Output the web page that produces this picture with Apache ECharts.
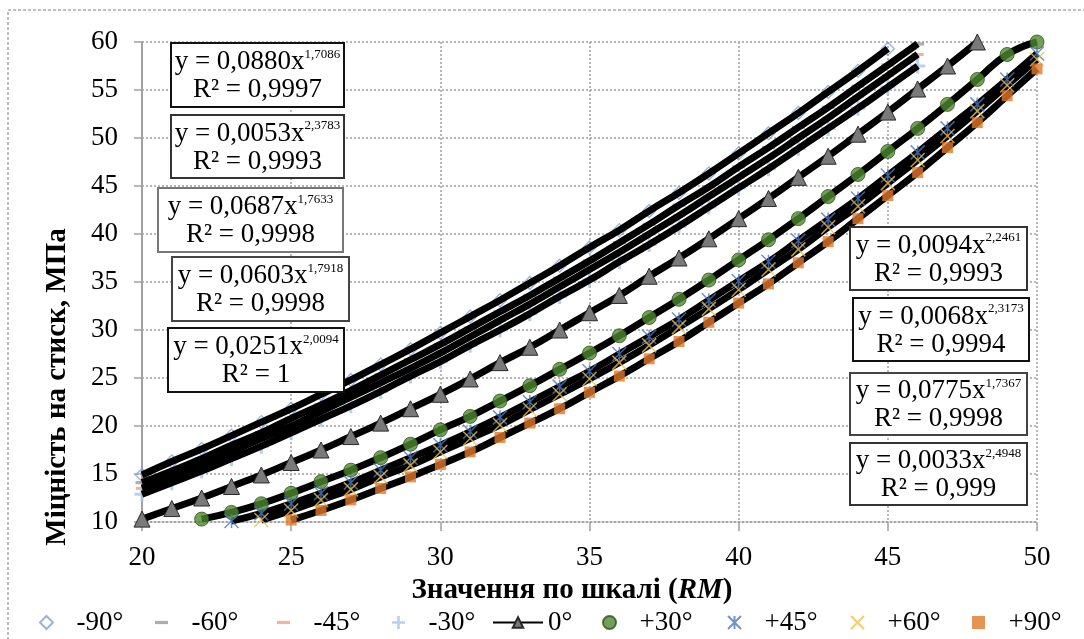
<!DOCTYPE html>
<html><head><meta charset="utf-8">
<script src="https://cdn.jsdelivr.net/npm/echarts@6/dist/echarts.min.js"></script>
<style>html,body{margin:0;padding:0;background:#fff}#c{width:1084px;height:639px}</style>
</head><body><div id="c"></div>
<script>
// ---- data ----
const rm = [20,21,22,23,24,25,26,27,28,29,30,31,32,33,34,35,36,37,38,39,40,41,42,43,44,45,46,47,48,49,50];
const xTicks = [20,25,30,35,40,45,50];
const yTicks = [10,15,20,25,30,35,40,45,50,55,60];
const seriesNames = ['-90°','-60°','-45°','-30°','0°','+30°','+45°','+60°','+90°'];
const vM90 = [14.9,16.3,17.6,19.0,20.4,21.8,23.3,24.8,26.4,28.0,29.7,31.4,33.1,34.9,36.7,38.6,40.4,42.4,44.3,46.3,48.4,50.5,52.6,54.8,57.0,59.3,null,null,null,null,null];
const vM60 = [14.1,15.3,16.6,18.0,19.3,20.8,22.2,23.7,25.3,26.9,28.5,30.2,31.9,33.6,35.4,37.2,39.1,41.0,43.0,44.9,47.0,49.0,51.1,53.2,55.4,57.6,59.8,null,null,null,null];
const vM45 = [13.5,14.7,16.0,17.3,18.7,20.0,21.5,23.0,24.5,26.0,27.6,29.3,31.0,32.7,34.5,36.3,38.1,40.0,41.9,43.9,45.9,47.9,50.0,52.1,54.3,56.5,58.7,null,null,null,null];
const vM30 = [12.9,14.1,15.3,16.6,17.9,19.3,20.7,22.1,23.6,25.2,26.7,28.4,30.0,31.7,33.5,35.2,37.1,38.9,40.8,42.8,44.8,46.8,48.9,51.0,53.1,55.3,57.5,null,null,null,null];
const v0   = [10.3,11.4,12.5,13.7,14.9,16.2,17.5,18.9,20.3,21.8,23.3,24.9,26.6,28.2,30.0,31.8,33.6,35.6,37.5,39.5,41.6,43.7,45.9,48.1,50.4,52.7,55.1,57.5,60.0,null,null];
const vP30 = [null,null,10.3,11.0,11.9,13.0,14.2,15.4,16.7,18.1,19.6,21.0,22.6,24.2,25.9,27.6,29.4,31.3,33.2,35.2,37.3,39.4,41.6,43.9,46.2,48.6,51.0,53.5,56.1,58.7,60.0];
const vP45 = [null,null,null,10.1,10.9,11.9,13.0,14.1,15.4,16.7,18.0,19.4,20.9,22.5,24.1,25.7,27.5,29.3,31.1,33.1,35.1,37.1,39.3,41.5,43.7,46.1,48.5,51.0,53.5,56.1,58.8];
const vP60 = [null,null,null,null,10.2,11.2,12.3,13.4,14.7,15.9,17.3,18.7,20.1,21.7,23.3,24.9,26.6,28.4,30.3,32.2,34.2,36.3,38.4,40.7,42.9,45.3,47.7,50.2,52.8,55.5,58.2];
const vP90 = [null,null,null,null,null,10.2,11.2,12.3,13.5,14.7,16.0,17.3,18.8,20.3,21.8,23.5,25.2,27.0,28.8,30.8,32.8,34.8,37.0,39.2,41.6,44.0,46.4,49.0,51.6,54.4,57.2];
const eqCoef = ['0,0880','0,0053','0,0687','0,0603','0,0251','0,0094','0,0068','0,0775','0,0033'];
const eqExp  = ['1,7086','2,3783','1,7633','1,7918','2,0094','2,2461','2,3173','1,7367','2,4948'];
const eqR2   = ['0,9997','0,9993','0,9998','0,9998','1','0,9993','0,9994','0,9998','0,999'];
const xTitleMain = 'Значення по шкалі (';
const xTitleItal = 'RM';
const yTitle = 'Міцність на стиск, МПа';

// ---- layout / styles ----
const FONT = '"Liberation Serif","Times New Roman",serif';
const boxLayout = [[171,43,173,64],[171,115,173,63],[158,188,185,64],[172,257,177,64],[168,328,176,64],
                   [850,227,177,63],[853,298,176,63],[850,373,177,62],[850,443,177,62]];
const boxBorder = ['#111','#333','#777','#444','#111','#333','#111','#444','#333'];
const legendIconCenters = [47,163,285,400,517,610,735,858,980];

function pairs(vals){ return rm.map((x,i)=>[x, vals[i]]).filter(p=>p[1]!=null); }

const DASH = 'path://M0,0L0,0M0,4.5L12,4.5L12,7.5L0,7.5ZM12,12L12,12';
const markerDefs = [
  {symbol:'path://M5,0L10,5L5,10L0,5Z', size:13, itemStyle:{color:'rgba(255,255,255,0)',borderColor:'#7ba3d6',borderWidth:1.3}},
  {symbol:DASH, size:13, itemStyle:{color:'#9a9a9a'}},
  {symbol:DASH, size:12, itemStyle:{color:'#f2a07b'}},
  {symbol:'path://M4,0L6,0L6,4L10,4L10,6L6,6L6,10L4,10L4,6L0,6L0,4L4,4Z', size:15, itemStyle:{color:'#a8c3ea'}},
  null,
  {symbol:'circle', size:14, itemStyle:{color:'#4e8a2e',borderColor:'#2f4f1c',borderWidth:1}},
  {symbol:'path://M5,0L5,10M0,0L10,10M10,0L0,10', size:14, itemStyle:{color:'rgba(0,0,0,0)',borderColor:'#4a78c0',borderWidth:1.5}},
  {symbol:'path://M0,0L10,10M10,0L0,10', size:14, itemStyle:{color:'rgba(0,0,0,0)',borderColor:'#f0c24a',borderWidth:1.5}},
  {symbol:'path://M0,0L10,0L10,10L0,10Z', size:11, itemStyle:{color:'#e0782a'}}
];
const allVals = [vM90,vM60,vM45,vM30,v0,vP30,vP45,vP60,vP90];
const LW = 7;

const series = [];
allVals.forEach((vals,i)=>{
  if (i===4) return;
  series.push({type:'line', name:'trend'+i, data:pairs(vals), smooth:true, showSymbol:false, symbol:'none',
    lineStyle:{color:'#000',width:LW}, emphasis:{disabled:true}, z:3, silent:true});
});
allVals.forEach((vals,i)=>{
  if (i===4) {
    series.push({type:'line', name:seriesNames[i], data:pairs(vals), smooth:true, symbol:'triangle', symbolSize:16,
      showAllSymbol:true, lineStyle:{color:'#000',width:LW}, itemStyle:{color:'#7a7a7a',borderColor:'#2a2a2a',borderWidth:1}, z:5});
  } else {
    const m = markerDefs[i];
    series.push({type:'scatter', name:seriesNames[i], data:pairs(vals), symbol:m.symbol, symbolSize:m.size,
      symbolKeepAspect:false, itemStyle:m.itemStyle, z:(i>=5?4:2)});
  }
});

const graphic = [
  {type:'rect', shape:{x:8,y:10,width:1100,height:660}, style:{fill:'none',stroke:'#aaa',lineWidth:1.5,lineDash:[3,2]}, z:-1, silent:true},
  {type:'text', x:58, y:387, rotation:Math.PI/2, z:10,
   style:{text:yTitle, fontSize:29, fontWeight:'bold', fontFamily:FONT, fill:'#000', textAlign:'center', textVerticalAlign:'middle', align:'center', verticalAlign:'middle'}},
  {type:'text', x:572, y:591, z:10,
   style:{text:'{b|'+xTitleMain+'}{i|'+xTitleItal+'}{b|)}', fill:'#000', textAlign:'center', textVerticalAlign:'middle', align:'center', verticalAlign:'middle',
     rich:{b:{fontSize:29,fontWeight:'bold',fontFamily:FONT,fill:'#000'}, i:{fontSize:29,fontWeight:'bold',fontStyle:'italic',fontFamily:FONT,fill:'#000'}}}}
];
boxLayout.forEach((b,i)=>{
  graphic.push({type:'group', x:b[0], y:b[1], z:50, children:[
    {type:'rect', shape:{x:0,y:0,width:b[2],height:b[3]}, style:{fill:'#fff',stroke:boxBorder[i],lineWidth:2}, z:50},
    {type:'text', x:b[2]/2, y:b[3]/2+1, z:51,
     style:{text:'{m|y = '+eqCoef[i]+'x}{s|'+eqExp[i]+'}\n{m|R² = '+eqR2[i]+'}',
       textAlign:'center', textVerticalAlign:'middle', align:'center', verticalAlign:'middle', fill:'#000',
       rich:{m:{fontSize:27,lineHeight:28,fontFamily:FONT,fill:'#000'},
             s:{fontSize:13,lineHeight:13,fontFamily:FONT,fill:'#000',verticalAlign:'top'}}}}
  ]});
});

const legends = seriesNames.map((n,i)=>({
  data:[n], left:legendIconCenters[i]-(i===4?25:8), top:609, padding:0, itemWidth:50, itemHeight:13, itemGap:0,
  symbolKeepAspect:true, textStyle:{fontSize:27, fontFamily:FONT, color:'#000'}
}));

const chart = echarts.init(document.getElementById('c'), null, {renderer:'canvas'});
chart.setOption({
  animation:false,
  backgroundColor:'#fff',
  grid:{left:142, right:47, top:42, bottom:117, containLabel:false},
  xAxis:{type:'value', min:xTicks[0], max:xTicks[xTicks.length-1], interval:xTicks[1]-xTicks[0],
    axisLine:{show:true, lineStyle:{color:'#a0a0a0', width:1.5, type:[2,2]}},
    axisTick:{show:true, length:9, lineStyle:{color:'#a0a0a0', width:1.5}},
    axisLabel:{margin:22, fontSize:27, fontFamily:FONT, color:'#000'},
    splitLine:{show:true, lineStyle:{color:'#a0a0a0', width:1.5, type:[2,2]}}},
  yAxis:{type:'value', min:yTicks[0], max:yTicks[yTicks.length-1], interval:yTicks[1]-yTicks[0],
    axisLine:{show:true, lineStyle:{color:'#a0a0a0', width:2}},
    axisTick:{show:true, length:8, lineStyle:{color:'#a0a0a0', width:1.5}},
    axisLabel:{margin:24, fontSize:27, fontFamily:FONT, color:'#000'},
    splitLine:{show:true, lineStyle:{color:'#a0a0a0', width:1.5, type:[2,2]}}},
  legend:legends,
  graphic:graphic,
  series:series
});
</script></body></html>
